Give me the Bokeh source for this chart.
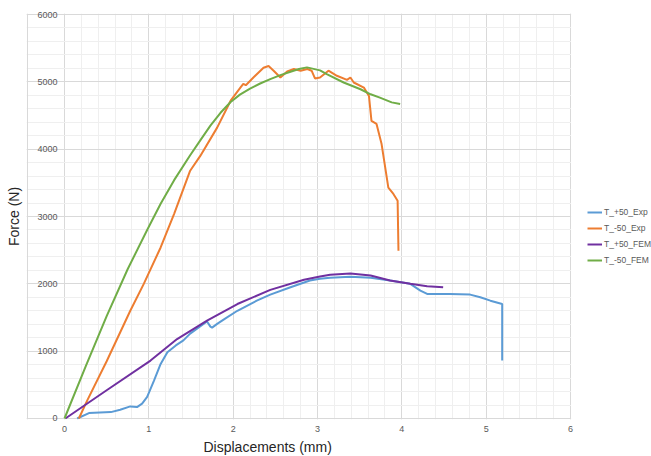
from bokeh.plotting import figure
from bokeh.models import FixedTicker, Legend, LegendItem, Title, BoxAnnotation, Span
from bokeh.embed import file_html
from bokeh.resources import INLINE

# Force–displacement curves: experiment vs FEM at +50 and -50
exp_p50_x = [0.15, 0.29, 0.55, 0.66, 0.78, 0.86, 0.92, 0.98, 1.06, 1.14, 1.22, 1.32,
             1.41, 1.49, 1.60, 1.69, 1.73, 1.75, 1.81, 1.90, 2.05, 2.28, 2.44, 2.68,
             2.91, 3.03, 3.15, 3.39, 3.63, 3.86, 4.10, 4.22, 4.30, 4.57, 4.81, 4.93,
             5.05, 5.19, 5.19]
exp_p50_y = [0, 80, 95, 130, 180, 170, 220, 320, 560, 810, 985, 1085,
             1160, 1260, 1360, 1440, 1365, 1350, 1405, 1480, 1600, 1750, 1840, 1950,
             2050, 2075, 2090, 2105, 2090, 2050, 2000, 1900, 1850, 1850, 1840, 1800,
             1750, 1700, 860]

exp_m50_x = [0.17, 0.27, 0.50, 0.78, 0.94, 1.14, 1.30, 1.49, 1.61, 1.81, 1.97, 2.09,
             2.12, 2.15, 2.24, 2.36, 2.42, 2.48, 2.56, 2.64, 2.72, 2.80, 2.88, 2.93,
             2.97, 3.03, 3.13, 3.23, 3.35, 3.39, 3.43, 3.55, 3.61, 3.64, 3.70, 3.76,
             3.84, 3.90, 3.95, 3.96]
exp_m50_y = [0, 270, 850, 1600, 2000, 2540, 3040, 3680, 3900, 4320, 4720, 4920,
             4970, 4950, 5065, 5210, 5235, 5165, 5065, 5155, 5190, 5165, 5190, 5165,
             5050, 5065, 5165, 5090, 5030, 5065, 4990, 4915, 4790, 4420, 4375, 4075,
             3430, 3335, 3235, 2490]

fem_p50_x = [0.01, 0.50, 1.02, 1.335, 1.69, 2.05, 2.44, 2.84, 3.03, 3.15, 3.39, 3.63,
             3.86, 4.10, 4.30, 4.49]
fem_p50_y = [0, 420, 860, 1180, 1455, 1700, 1910, 2060, 2110, 2135, 2155, 2125,
             2050, 2000, 1965, 1950]

fem_m50_x = [0.0, 0.25, 0.50, 0.75, 0.98, 1.14, 1.30, 1.49, 1.62, 1.73, 1.85, 1.97,
             2.08, 2.20, 2.32, 2.44, 2.56, 2.68, 2.78, 2.875, 3.03, 3.11, 3.31, 3.51,
             3.63, 3.74, 3.88, 3.98]
fem_m50_y = [0, 770, 1520, 2220, 2800, 3190, 3540, 3910, 4150, 4350, 4540, 4700,
             4810, 4900, 4975, 5040, 5100, 5150, 5190, 5215, 5170, 5115, 4990, 4890,
             4815, 4765, 4695, 4670]

series_names = ["T_+50_Exp", "T_-50_Exp", "T_+50_FEM", "T_-50_FEM"]
series_colors = ["#5B9BD5", "#ED7D31", "#7030A0", "#70AD47"]

x_ticks = [0, 1, 2, 3, 4, 5, 6]
x_minor = [round(i * 0.2, 1) for i in range(31)]
y_ticks = [0, 1000, 2000, 3000, 4000, 5000, 6000]
y_minor = list(range(0, 6001, 200))

FONT = "Liberation Sans"
GRID = "#d9d9d9"

# The frame runs to the right edge so the legend can sit beside the grid;
# the area past x = 6 is blanked out below.
PX_PER_X = 84.33
PX_PER_Y = 67.33 / 1000
x_lo = -38 / PX_PER_X          # frame starts a little left of the tick labels
x_hi = 6 + 81 / PX_PER_X
y_lo = -1 / PX_PER_Y
y_hi = 6000 + 1 / PX_PER_Y

p = figure(width=651, height=456, output_backend="svg", toolbar_location=None,
           x_range=(x_lo, x_hi), y_range=(y_lo, y_hi),
           min_border_left=26, min_border_right=0, min_border_top=13,
           min_border_bottom=0)
p.background_fill_color = "white"
p.border_fill_color = "white"
p.outline_line_color = None

# grid
p.xaxis.ticker = FixedTicker(ticks=x_ticks, minor_ticks=x_minor)
p.yaxis.ticker = FixedTicker(ticks=y_ticks, minor_ticks=y_minor)
for g in (p.xgrid, p.ygrid):
    g.grid_line_color = GRID
    g.grid_line_width = 1
    g.minor_grid_line_color = "#efefef"
    g.minor_grid_line_width = 1

# axes
for ax in (p.xaxis, p.yaxis):
    ax.axis_line_color = None
    ax.major_tick_line_color = None
    ax.minor_tick_line_color = None
    ax.major_tick_out = 0
    ax.minor_tick_out = 0
    ax.major_label_text_font = FONT
    ax.major_label_text_font_size = "9px"
    ax.major_label_text_color = "#595959"

p.xaxis.major_label_standoff = 6
p.yaxis.major_label_standoff = -31
p.yaxis.axis_label = "Force (N)"
p.yaxis.axis_label_text_font = FONT
p.yaxis.axis_label_text_font_size = "14px"
p.yaxis.axis_label_text_font_style = "normal"
p.yaxis.axis_label_text_color = "#262626"
p.yaxis.axis_label_standoff = 12

p.add_layout(Title(text="Displacements  (mm)", align="left", offset=177,
                   text_font=FONT, text_font_size="14px", text_font_style="normal",
                   text_color="#262626", standoff=4), "below")

renderers = []
for xs, ys, c in zip([exp_p50_x, exp_m50_x, fem_p50_x, fem_m50_x],
                     [exp_p50_y, exp_m50_y, fem_p50_y, fem_m50_y],
                     series_colors):
    renderers.append(p.line(xs, ys, line_color=c, line_width=2))

# blank area right of the plot region, and the left border of the chart area
p.add_layout(BoxAnnotation(left=6 + 0.6 / PX_PER_X, fill_color="white", fill_alpha=1,
                           line_color=None))
p.add_layout(Span(location=x_lo + 1 / PX_PER_X, dimension="height",
                  line_color=GRID, line_width=1))

legend = Legend(items=[LegendItem(label=n, renderers=[r]) for n, r in zip(series_names, renderers)],
                location=(561, 151), orientation="vertical",
                glyph_width=15, glyph_height=16, label_height=16, label_standoff=2,
                spacing=0, padding=0, margin=0,
                border_line_color=None, background_fill_alpha=0,
                label_text_font=FONT, label_text_font_size="8.5px",
                label_text_color="#595959")
p.add_layout(legend)

open("out.html", "w").write(file_html(p, INLINE))
